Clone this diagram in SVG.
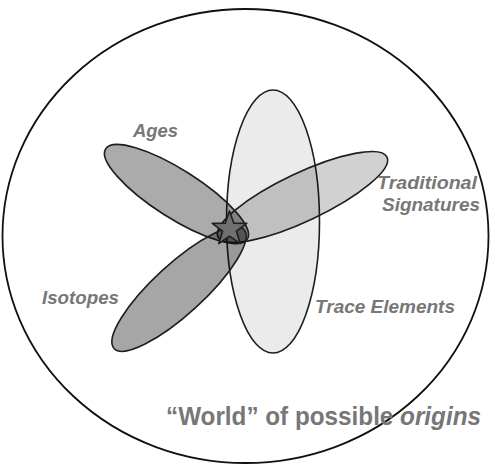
<svg xmlns="http://www.w3.org/2000/svg" width="491" height="465" viewBox="0 0 491 465">
<style>
.e{stroke:#1e1e1e;stroke-width:1.6}
.lbl{font-family:"Liberation Sans",Arial,sans-serif;font-weight:bold;font-style:italic;fill:#777;font-size:19px}
</style>
<rect width="491" height="465" fill="#fff"/>
<g id="world">
<ellipse cx="245.5" cy="236" rx="243" ry="227" fill="#fff" stroke="#111" stroke-width="1.8"/>
</g>
<g id="trace-elements">
<ellipse class="e" cx="273" cy="221.5" rx="46.5" ry="131.5" fill="#000" fill-opacity="0.08"/>
</g>
<g id="traditional-signatures">
<ellipse class="e" cx="0" cy="0" rx="93.5" ry="24" fill="#000" fill-opacity="0.18" transform="translate(302.5,197) rotate(-25.3)"/>
</g>
<g id="ages">
<ellipse class="e" cx="0" cy="0" rx="84" ry="24" fill="#000" fill-opacity="0.33" transform="translate(176.5,194) rotate(32.5)"/>
</g>
<g id="isotopes">
<ellipse class="e" cx="0" cy="0" rx="88" ry="25" fill="#000" fill-opacity="0.35" transform="translate(179,289) rotate(-42.5)"/>
</g>
<g id="star">
<polygon points="229.5,211 233.8,223.3 246.8,223.4 236.4,231.2 240.2,243.6 229.5,236.2 218.8,243.6 222.6,231.2 212.2,223.4 225.2,223.3" fill="#707070" stroke="#1e1e1e" stroke-width="1.6" stroke-linejoin="round"/>
</g>
<g id="labels">
<text class="lbl" x="133" y="137" textLength="45" lengthAdjust="spacingAndGlyphs">Ages</text>
<text class="lbl" x="42" y="304" textLength="77" lengthAdjust="spacingAndGlyphs">Isotopes</text>
<text class="lbl" x="377" y="189" textLength="100" lengthAdjust="spacingAndGlyphs">Traditional</text>
<text class="lbl" x="382" y="211" textLength="98" lengthAdjust="spacingAndGlyphs">Signatures</text>
<text class="lbl" x="315" y="313" textLength="140" lengthAdjust="spacingAndGlyphs">Trace Elements</text>
<text x="166" y="425" font-family="'Liberation Sans',Arial,sans-serif" font-weight="bold" font-size="25" fill="#777" textLength="315" lengthAdjust="spacingAndGlyphs">“World” of possible <tspan font-style="italic">origins</tspan></text>
</g>
</svg>
